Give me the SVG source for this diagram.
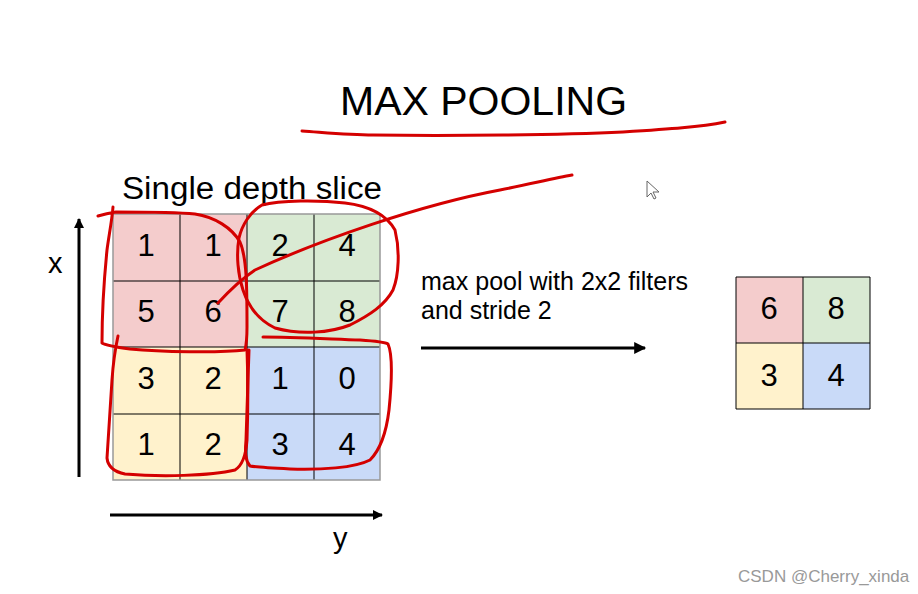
<svg xmlns="http://www.w3.org/2000/svg" width="918" height="594" viewBox="0 0 918 594">
<defs>
<marker id="ah" viewBox="0 0 10 10" refX="9" refY="5" markerWidth="10" markerHeight="10" markerUnits="userSpaceOnUse" orient="auto">
<path d="M0,0 L10,5 L0,10 z" fill="#000"/>
</marker>
<marker id="ah2" viewBox="0 0 10 10" refX="9" refY="5" markerWidth="14" markerHeight="12" markerUnits="userSpaceOnUse" orient="auto">
<path d="M0,0 L10,5 L0,10 z" fill="#000"/>
</marker>
</defs>
<style>
text{font-family:"Liberation Sans",Arial,sans-serif;fill:#000}
.num{font-size:31px;text-anchor:middle}
.pink{fill:#f4cccc}.green{fill:#d9ead3}.yellow{fill:#fff2cc}.blue{fill:#c9daf8}
.grid{stroke:#000;stroke-width:1;fill:none}
.outer{stroke:#999;stroke-width:1.5;fill:none}
.pen{stroke:#d40000;stroke-width:3;fill:none;stroke-linecap:round;stroke-linejoin:round}
.axis{stroke:#000;stroke-width:3;fill:none}
</style>
<rect width="918" height="594" fill="#fff"/>

<g id="title"><text x="340" y="115" font-size="41">MAX POOLING</text></g>
<g id="slice-label"><text x="122" y="199" font-size="31" textLength="260" lengthAdjust="spacingAndGlyphs">Single depth slice</text></g>

<g id="input-grid">
<rect class="pink" x="113" y="214" width="134" height="133"/>
<rect class="green" x="247" y="214" width="133" height="133"/>
<rect class="yellow" x="113" y="347" width="134" height="133"/>
<rect class="blue" x="247" y="347" width="133" height="133"/>
<path class="grid" d="M180,214V480M247,214V480M314,214V480M113,281H380M113,347H380M113,414H380"/>
<rect class="outer" x="113" y="214" width="267" height="266"/>
<text class="num" x="146" y="256">1</text><text class="num" x="213" y="256">1</text><text class="num" x="280" y="256">2</text><text class="num" x="347" y="256">4</text>
<text class="num" x="146" y="322">5</text><text class="num" x="213" y="322">6</text><text class="num" x="280" y="322">7</text><text class="num" x="347" y="322">8</text>
<text class="num" x="146" y="389">3</text><text class="num" x="213" y="389">2</text><text class="num" x="280" y="389">1</text><text class="num" x="347" y="389">0</text>
<text class="num" x="146" y="455">1</text><text class="num" x="213" y="455">2</text><text class="num" x="280" y="455">3</text><text class="num" x="347" y="455">4</text>
</g>

<g id="output-grid">
<rect class="pink" x="736" y="277" width="67" height="66"/>
<rect class="green" x="803" y="277" width="67" height="66"/>
<rect class="yellow" x="736" y="343" width="67" height="66"/>
<rect class="blue" x="803" y="343" width="67" height="66"/>
<path class="grid" d="M736,277V409M803,277V409M870,277V409M736,277H870M736,343H870M736,409H870"/>
<text class="num" x="769" y="319">6</text><text class="num" x="836" y="319">8</text>
<text class="num" x="769" y="386">3</text><text class="num" x="836" y="386">4</text>
</g>

<g id="op-label">
<text x="421" y="290" font-size="25" textLength="267" lengthAdjust="spacingAndGlyphs">max pool with 2x2 filters</text>
<text x="421" y="319" font-size="25">and stride 2</text>
</g>

<g id="axes">
<line class="axis" x1="79" y1="477" x2="79" y2="219" marker-end="url(#ah)"/>
<text x="48" y="273" font-size="29">x</text>
<line class="axis" x1="110" y1="515" x2="382" y2="515" marker-end="url(#ah)"/>
<text x="333" y="548" font-size="29">y</text>
</g>

<g id="connectors">
<line x1="421" y1="348" x2="645" y2="348" stroke="#000" stroke-width="3" marker-end="url(#ah2)"/>
</g>

<g id="annotations">
<path class="pen" d="M302,131 C330,133 350,135 373,135 C450,136 560,135 623,132 C670,129 700,127 725,122"/>
<path class="pen" d="M98,216 C105,214 110,213 116,212 C150,212 175,212 195,214 C215,217 232,228 240,242 C247,258 247,290 247,327 C247,340 246,346 245,350 C220,353 160,352 130,349 C115,347 105,345 102,343 C102,320 104,280 107,250 C109,235 112,220 113,207"/>
<path class="pen" d="M239,238 C242,225 250,212 262,205 C280,200 320,200 345,203 C370,206 386,214 395,230 C400,250 399,275 393,290 C385,305 370,315 350,325 C330,333 300,335 275,328 C258,320 248,305 243,290 C238,275 236,255 239,238"/>
<path class="pen" d="M218,303 C230,290 240,280 255,270 C320,240 420,205 500,190 C530,184 555,178 572,175"/>
<path class="pen" d="M118,336 C115,350 113,365 112,380 C110,410 108,440 107,458 C108,468 115,472 125,474 C160,477 210,476 235,470 C243,465 246,455 247,440 C248,410 248,375 247,350"/>
<path class="pen" d="M263,337 C290,337 330,339 360,340 C375,341 385,342 388,344 C393,355 392,380 389,410 C386,435 380,450 370,460 C355,468 320,470 290,469 C270,468 255,467 250,466 C245,460 245,452 246,440 C247,410 248,380 249,350"/>
</g>

<g id="cursor">
<path d="M647,181 L647,197 L651,193 L654,199 L656,198 L653,192 L659,192 Z" fill="#fff" stroke="#666" stroke-width="1"/>
</g>

<g id="watermark"><text x="738" y="582" font-size="17" style="fill:#999">CSDN @Cherry_xinda</text></g>
</svg>
